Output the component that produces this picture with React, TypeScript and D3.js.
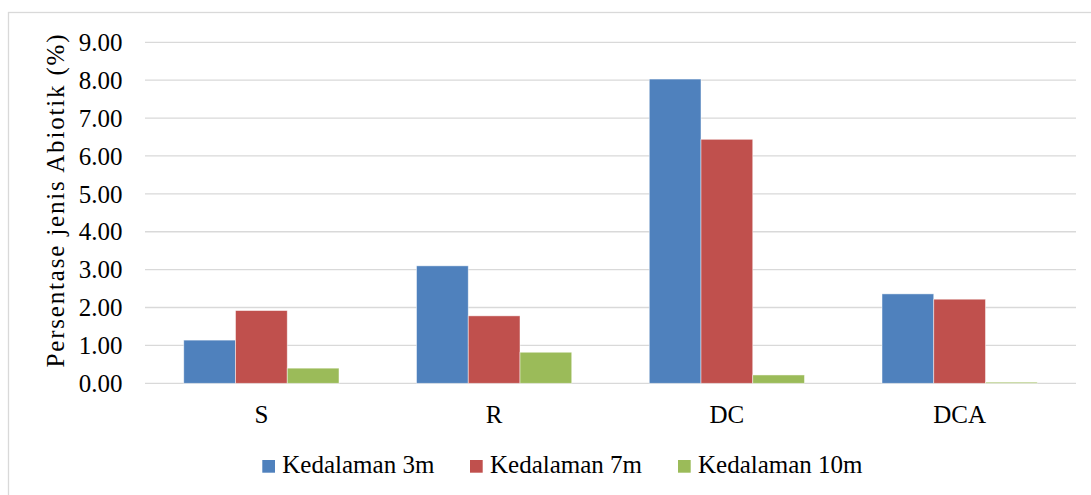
import React from "react";
import * as d3 from "d3";

const categories = ["S", "R", "DC", "DCA"];
const seriesNames = ["Kedalaman 3m", "Kedalaman 7m", "Kedalaman 10m"];
const kedalaman3m = [1.14, 3.1, 8.03, 2.36];
const kedalaman7m = [1.92, 1.78, 6.44, 2.22];
const kedalaman10m = [0.4, 0.82, 0.22, 0.03];
const yTicks = [0, 1, 2, 3, 4, 5, 6, 7, 8, 9];
const colors = ["#4f81bd", "#c0504d", "#9bbb59"];

const W = 1091;
const H = 495;
const FONT = '"Liberation Serif", "Times New Roman", Tinos, "DejaVu Serif", serif';

export default function App() {
  const series = [kedalaman3m, kedalaman7m, kedalaman10m];
  const x0 = d3
    .scaleBand<string>()
    .domain(categories)
    .range([145, 1076])
    .paddingInner(0.333)
    .paddingOuter(0.1665);
  const x1 = d3
    .scaleBand<number>()
    .domain(d3.range(series.length))
    .range([0, x0.bandwidth()]);
  const y = d3.scaleLinear().domain([0, 9]).range([383.3, 42.3]);

  const legendX = [262.3, 470, 678];
  const ts = { fontFamily: FONT, fontSize: "25px" };

  return (
    <svg
      width={W}
      height={H}
      style={{ position: "absolute", left: 0, top: 0, background: "#fff", fontFamily: FONT }}
    >
      <rect x={8.5} y={12.5} width={1100} height={500} fill="#fff" stroke="#d9d9d9" strokeWidth={1.3} />
      {yTicks.map((t) => (
        <g key={t}>
          <line x1={145} x2={1076} y1={y(t)} y2={y(t)} stroke="#d9d9d9" strokeWidth={1.3} />
          <text x={122.5} y={y(t)} dy="0.35em" textAnchor="end" style={ts} fill="#000">
            {d3.format(".2f")(t)}
          </text>
        </g>
      ))}
      {categories.map((c, i) => (
        <g key={c}>
          {series.map((s, j) => (
            <rect
              key={j}
              x={(x0(c) as number) + (x1(j) as number)}
              y={y(s[i])}
              width={x1.bandwidth()}
              height={y(0) - y(s[i])}
              fill={colors[j]}
              stroke="#ffffff"
              strokeOpacity={0.6}
              strokeWidth={0.8}
            />
          ))}
          <text
            x={(x0(c) as number) + x0.bandwidth() / 2}
            y={423}
            textAnchor="middle"
            style={ts}
            fill="#000"
          >
            {c}
          </text>
        </g>
      ))}
      <text
        transform={`translate(64,201) rotate(-90)`}
        textAnchor="middle"
        style={ts}
        fill="#000"
        textLength={333}
        lengthAdjust="spacing"
      >
        Persentase jenis Abiotik (%)
      </text>
      {seriesNames.map((n, j) => (
        <g key={n}>
          <rect x={legendX[j]} y={460} width={12.7} height={12.7} fill={colors[j]} />
          <text x={legendX[j] + 20} y={473} style={ts} fill="#000">
            {n}
          </text>
        </g>
      ))}
    </svg>
  );
}
